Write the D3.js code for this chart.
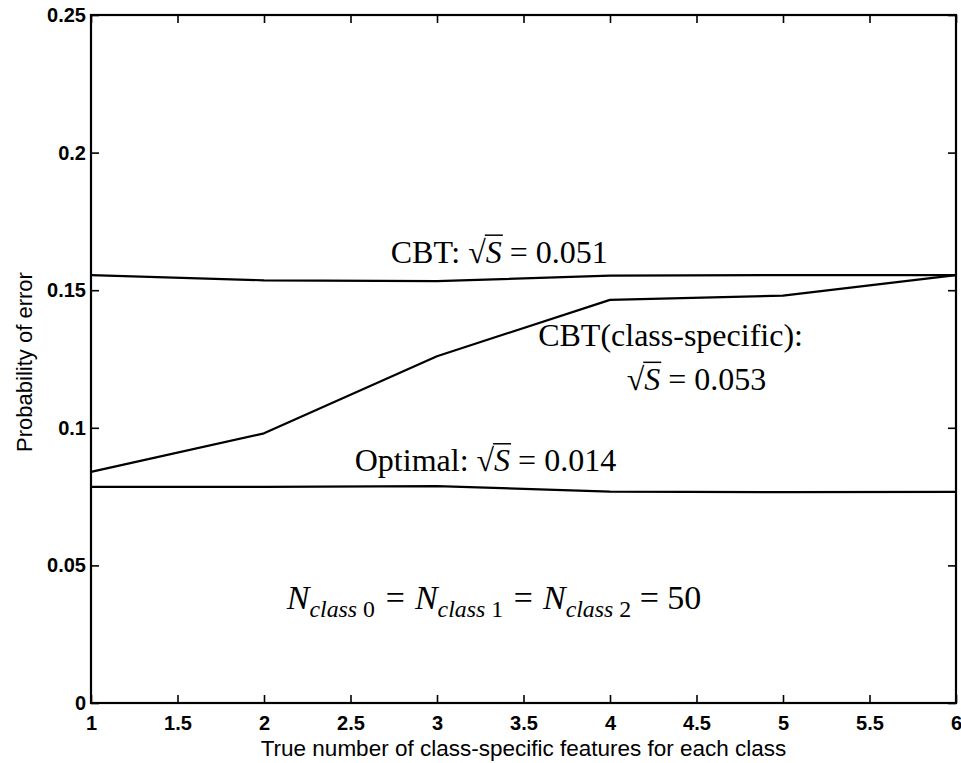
<!DOCTYPE html>
<html>
<head>
<meta charset="utf-8">
<script src="https://cdn.jsdelivr.net/npm/d3@7"></script>
<style>
  body { margin: 0; background: #fff; }
  .tick text { font-family: "Liberation Sans", Arial, sans-serif; font-weight: bold; font-size: 20px; fill: #000; }
  .math { font-family: "Liberation Serif", "Times New Roman", serif; fill: #000; }
</style>
</head>
<body>
<svg id="chart" width="961" height="763"></svg>
<script>
// Number of true class-specific features per class
const nFeatures = [1, 2, 3, 4, 5, 6];
// Probability of error for each method
const cbtError = [0.1555, 0.1536, 0.1533, 0.1553, 0.1555, 0.1555];
const cbtClassSpecificError = [0.084, 0.098, 0.126, 0.1465, 0.148, 0.1555];
const optimalError = [0.0785, 0.0785, 0.0788, 0.0768, 0.0766, 0.0767];

const xTicks = [1, 1.5, 2, 2.5, 3, 3.5, 4, 4.5, 5, 5.5, 6];
const xTickLabels = ["1", "1.5", "2", "2.5", "3", "3.5", "4", "4.5", "5", "5.5", "6"];
const yTicks = [0, 0.05, 0.1, 0.15, 0.2, 0.25];
const yTickLabels = ["0", "0.05", "0.1", "0.15", "0.2", "0.25"];

const xTitle = "True number of class-specific features for each class";
const yTitle = "Probability of error";

const svg = d3.select("#chart");
const W = 961, H = 763;
const m = { left: 91, right: 5, top: 15, bottom: 60 };

const x = d3.scaleLinear().domain([1, 6]).range([m.left, W - m.right]);
const y = d3.scaleLinear().domain([0, 0.25]).range([H - m.bottom, m.top]);

const tickLen = 8;

// Bottom axis with labels
svg.append("g")
  .attr("transform", `translate(0,${y(0)})`)
  .call(d3.axisBottom(x).tickValues(xTicks)
    .tickFormat((d, i) => xTickLabels[i])
    .tickSizeInner(-tickLen).tickSizeOuter(0).tickPadding(13))
  .call(g => g.select(".domain").remove());

// Left axis with labels
svg.append("g")
  .attr("transform", `translate(${x(1)},0)`)
  .call(d3.axisLeft(y).tickValues(yTicks)
    .tickFormat((d, i) => yTickLabels[i])
    .tickSizeInner(-tickLen).tickSizeOuter(0).tickPadding(5))
  .call(g => g.select(".domain").remove());

// Top and right mirrored ticks
svg.append("g")
  .attr("transform", `translate(0,${y(0.25)})`)
  .call(d3.axisTop(x).tickValues(xTicks).tickFormat("")
    .tickSizeInner(-tickLen).tickSizeOuter(0))
  .call(g => g.select(".domain").remove());
svg.append("g")
  .attr("transform", `translate(${x(6)},0)`)
  .call(d3.axisRight(y).tickValues(yTicks).tickFormat("")
    .tickSizeInner(-tickLen).tickSizeOuter(0))
  .call(g => g.select(".domain").remove());

svg.selectAll(".tick line").attr("stroke", "#000").attr("stroke-width", 1.6);

// Plot box
svg.append("rect")
  .attr("x", x(1)).attr("y", y(0.25))
  .attr("width", x(6) - x(1)).attr("height", y(0) - y(0.25))
  .attr("fill", "none").attr("stroke", "#000").attr("stroke-width", 2.2);

// Series lines
const line = d3.line().x((d, i) => x(nFeatures[i])).y(d => y(d));
[cbtError, cbtClassSpecificError, optimalError].forEach(series => {
  svg.append("path")
    .datum(series)
    .attr("d", line)
    .attr("fill", "none")
    .attr("stroke", "#000")
    .attr("stroke-width", 2.2)
    .attr("stroke-linejoin", "round");
});

// Axis titles
svg.append("text")
  .attr("x", (x(1) + x(6)) / 2).attr("y", 756)
  .attr("text-anchor", "middle")
  .attr("font-family", "Liberation Sans, Arial, sans-serif")
  .attr("font-size", 22.5)
  .text(xTitle);

svg.append("text")
  .attr("transform", `translate(32,${(y(0) + y(0.25)) / 2 + 3}) rotate(-90)`)
  .attr("text-anchor", "middle")
  .attr("font-family", "Liberation Sans, Arial, sans-serif")
  .attr("font-size", 22)
  .text(yTitle);

// Math annotations: a label prefix, then √S with an overbar, then "= value"
function sqrtLabel(px, py, prefix, value, size) {
  const t = svg.append("text").attr("class", "math")
    .attr("x", px).attr("y", py).attr("font-size", size);
  t.append("tspan").text(prefix);
  t.append("tspan").text("√");
  t.append("tspan").attr("font-style", "italic").text("S");
  t.append("tspan").text(" = " + value);
  const node = t.node();
  const full = node.getComputedTextLength();
  t.attr("x", px - full / 2);
  // overbar above the S, joined to the top of the radical
  const n0 = prefix.length;
  const rad = node.getExtentOfChar(n0);
  const s = node.getExtentOfChar(n0 + 1);
  const barY = rad.y + 1.5;
  svg.append("line")
    .attr("x1", rad.x + rad.width - 1).attr("x2", s.x + s.width + 1)
    .attr("y1", barY).attr("y2", barY)
    .attr("stroke", "#000").attr("stroke-width", 1.5);
}

const mathSize = 32;
sqrtLabel(x(3.36), y(0.160), "CBT: ", "0.051", mathSize);

svg.append("text").attr("class", "math")
  .attr("x", x(4.35)).attr("y", y(0.1298))
  .attr("text-anchor", "middle").attr("font-size", mathSize)
  .text("CBT(class-specific):");
sqrtLabel(x(4.5), y(0.1138), "", "0.053", mathSize);
sqrtLabel(x(3.28), y(0.0842), "Optimal: ", "0.014", mathSize);

// Sample-size note: N_class0 = N_class1 = N_class2 = 50
const classIds = ["0", "1", "2"];
const sampleSize = "50";
const nSize = 34;
const subShift = 8;
const nLabel = svg.append("text").attr("class", "math")
  .attr("x", x(3.33)).attr("y", y(0.034))
  .attr("text-anchor", "middle").attr("font-size", nSize);
classIds.forEach((k, i) => {
  nLabel.append("tspan").attr("font-style", "italic")
    .attr("dy", i === 0 ? 0 : -subShift).text((i === 0 ? "" : " = ") + "N");
  nLabel.append("tspan").attr("font-style", "italic")
    .attr("font-size", nSize * 0.7).attr("dy", subShift).text("class ");
  nLabel.append("tspan").attr("font-size", nSize * 0.7).text(k);
});
nLabel.append("tspan").attr("dy", -subShift).text(" = " + sampleSize);
</script>
</body>
</html>
